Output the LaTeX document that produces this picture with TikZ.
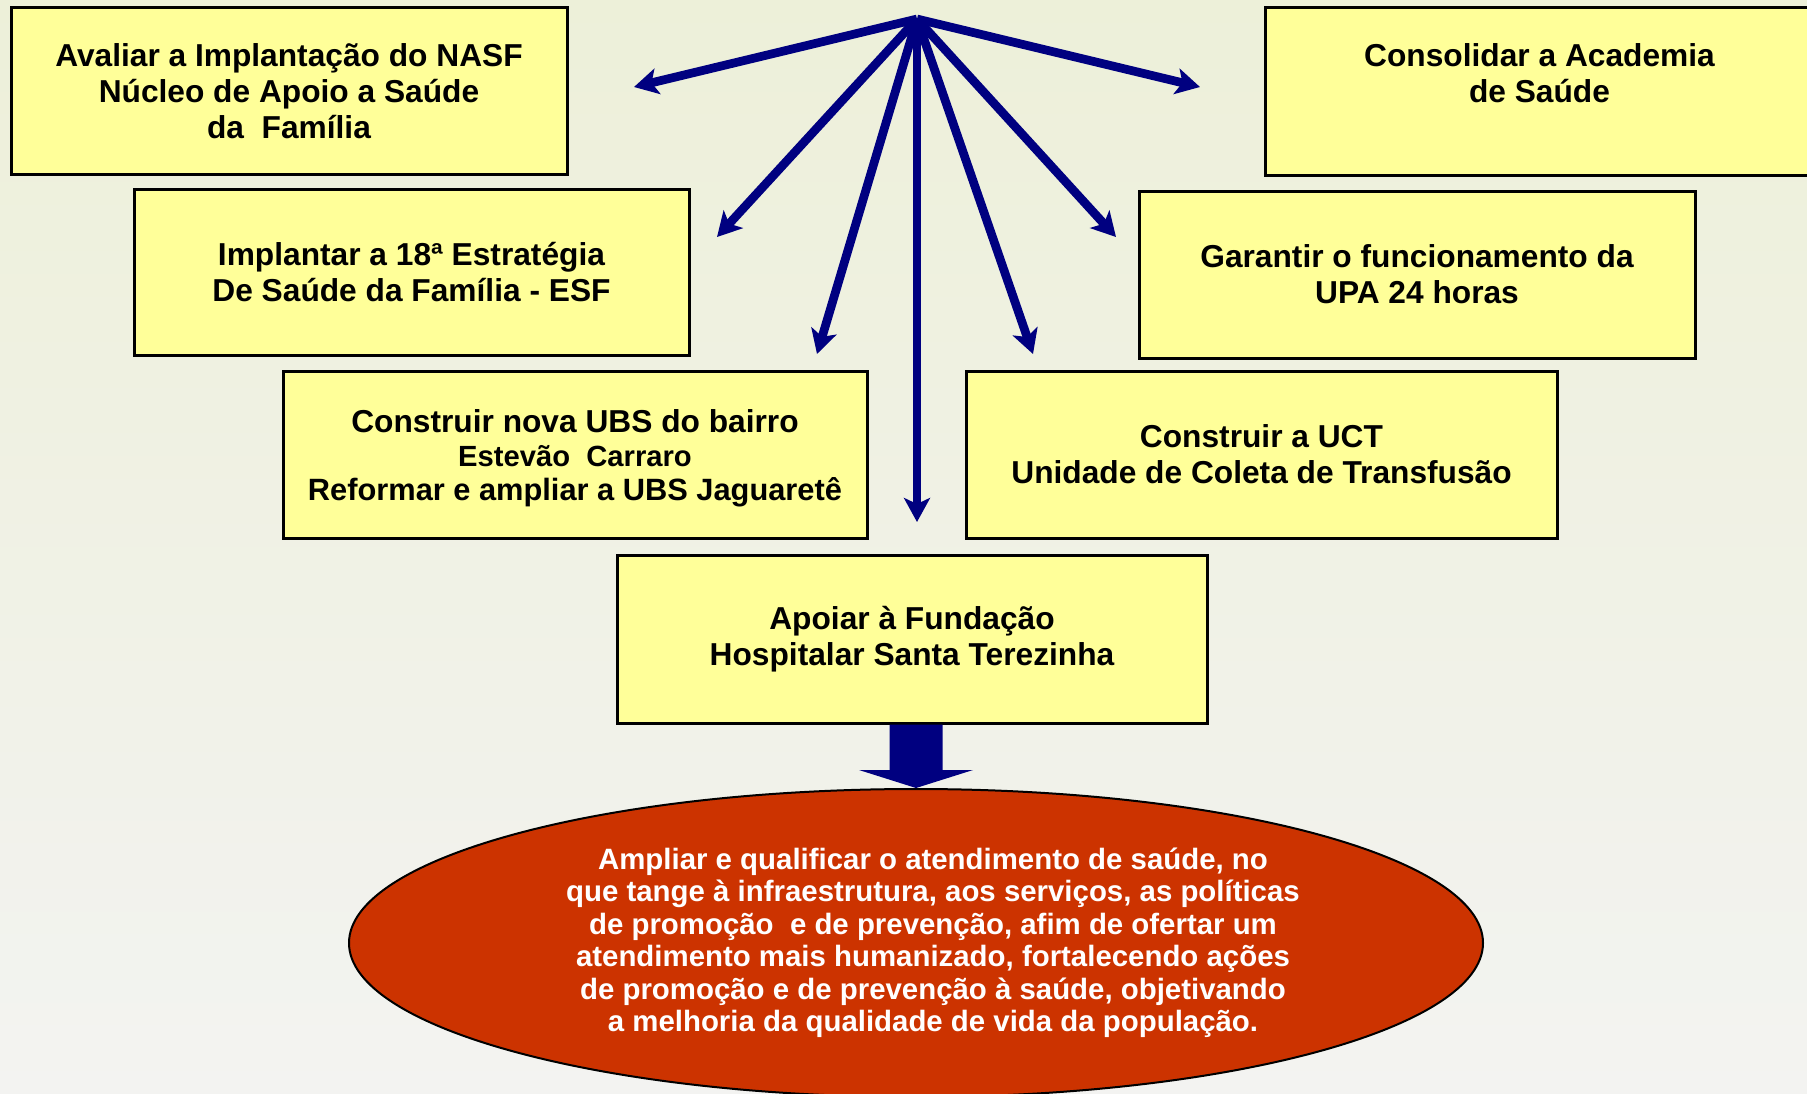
\documentclass[tikz,border=0pt]{standalone}
\usepackage{fontspec}
\setmainfont{Liberation Sans}
\usetikzlibrary{arrows.meta,shapes.geometric,calc}
\definecolor{boxyellow}{HTML}{FFFF99}
\definecolor{navyblue}{HTML}{000080}
\definecolor{goalred}{HTML}{CC3300}
\definecolor{bgtop}{HTML}{EDF0D9}
\definecolor{bgmid}{HTML}{F5F5F0}
\definecolor{bgbot}{HTML}{F3F3F1}
\newcommand\lowerln[1]{\raisebox{-4pt}[\height][\depth]{#1}}
\tikzset{
  boxnode/.style={draw=black, line width=3pt, fill=boxyellow, align=center,
    inner sep=0pt, minimum height=167pt,
    font=\fontsize{31.7pt}{36pt}\selectfont\bfseries},
  fanarrow/.style={draw=navyblue, line width=8.7pt,
    -{Stealth[length=24pt,width=26pt,inset=6pt]}},
  goalnode/.style={ellipse, draw=black, line width=2pt, fill=goalred,
    inner sep=0pt, minimum width=1134pt, minimum height=308pt},
  goaltextnode/.style={text=white, align=center, inner sep=0pt,
    font=\fontsize{29.4pt}{32.5pt}\selectfont\bfseries}
}
\begin{document}
\begin{tikzpicture}[x=1pt,y=-1pt]
\useasboundingbox (0,0) rectangle (1807,1093);
\shade[top color=bgtop, middle color=bgmid, bottom color=bgbot] (0,0) rectangle (1807,1093);

% boxes
\node[boxnode, minimum width=556pt] (b1) at (289,91)
  {Avaliar a Implantação do NASF\\Núcleo de Apoio a Saúde\\da~~Família};
\node[boxnode, minimum width=549pt, minimum height=168pt] (b2) at (1539.5,91)
  {Consolidar a Academia\\de Saúde\\\mbox{}};
\node[boxnode, minimum width=555pt, minimum height=166pt] (b3) at (411.5,272)
  {Implantar a 18ª Estratégia\\De Saúde da Família - ESF};
\node[boxnode, minimum width=556pt] (b4) at (1417,274.5)
  {Garantir o funcionamento da\\UPA 24 horas};
\node[boxnode, minimum width=584pt, font=\fontsize{31.7pt}{34pt}\selectfont\bfseries] (b5) at (575,454.5)
  {\lowerln{Construir nova UBS do bairro}\\{\fontsize{29.2pt}{34pt}\selectfont\lowerln{Estevão~~Carraro}}\\{\fontsize{30.8pt}{34pt}\selectfont\lowerln{Reformar e ampliar a UBS Jaguaretê}}};
\node[boxnode, minimum width=591pt] (b6) at (1261.5,454.5)
  {Construir a UCT\\Unidade de Coleta de Transfusão};
\node[boxnode, minimum width=590pt, minimum height=168pt] (b7) at (912,639)
  {Apoiar à Fundação\\Hospitalar Santa Terezinha};

% goal ellipse
\node[goalnode] (goal) at (916,943) {};
\node[goaltextnode] (goaltext) at (933,943)
  {Ampliar e qualificar o atendimento de saúde, no\\
   que tange à infraestrutura, aos serviços, as políticas\\
   de promoção~~e de prevenção, afim de ofertar um\\
   atendimento mais humanizado, fortalecendo ações\\
   de promoção e de prevenção à saúde, objetivando\\
   a melhoria da qualidade de vida da população.};

% block arrow from b7 to goal
\coordinate (ba) at (b7.south -| goal.north);
\fill[navyblue] ($(ba)+(-26.5,0)$) -- ($(ba)+(26.5,0)$)
  -- ($(goal.north)+(26.5,-18)$) -- ($(goal.north)+(57,-18)$)
  -- (goal.north) -- ($(goal.north)+(-57,-18)$)
  -- ($(goal.north)+(-26.5,-18)$) -- cycle;

% fan of arrows
\coordinate (hub) at (917,19);
\coordinate (t1) at (634,87);
\coordinate (t2) at (717,237);
\coordinate (t3) at (817,354);
\coordinate (t4) at (917,522);
\coordinate (t5) at (1033,354);
\coordinate (t6) at (1116,237);
\coordinate (t7) at (1200,87);
\foreach \t in {t1,t2,t3,t4,t5,t6,t7} {
  \draw[fanarrow] (hub) -- (\t);
}
\end{tikzpicture}
\end{document}
